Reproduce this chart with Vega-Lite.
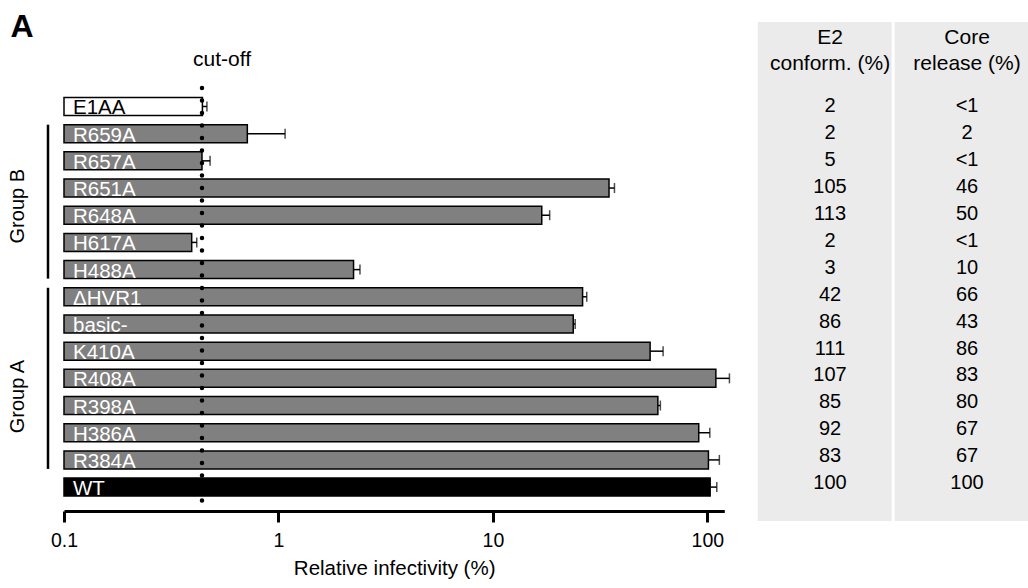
{
  "$schema": "https://vega.github.io/schema/vega-lite/v6.json",
  "padding": {"left": 5, "top": 10, "right": 0, "bottom": 0},
  "bounds": "flush",
  "spacing": 3,
  "config": {"font": "Liberation Sans", "view": {"stroke": null}},
  "datasets": {
    "rows": [
      {"name": "E1AA", "kind": "neg", "value": 0.442, "err": 0.464, "e2": "2", "core": "<1"},
      {"name": "R659A", "kind": "mut", "value": 0.716, "err": 1.074, "e2": "2", "core": "2"},
      {"name": "R657A", "kind": "mut", "value": 0.44, "err": 0.48, "e2": "5", "core": "<1"},
      {"name": "R651A", "kind": "mut", "value": 34.8, "err": 36.9, "e2": "105", "core": "46"},
      {"name": "R648A", "kind": "mut", "value": 16.9, "err": 18.4, "e2": "113", "core": "50"},
      {"name": "H617A", "kind": "mut", "value": 0.394, "err": 0.416, "e2": "2", "core": "<1"},
      {"name": "H488A", "kind": "mut", "value": 2.24, "err": 2.4, "e2": "3", "core": "10"},
      {"name": "ΔHVR1", "kind": "mut", "value": 26.2, "err": 27.4, "e2": "42", "core": "66"},
      {"name": "basic-", "kind": "mut", "value": 23.7, "err": 24.2, "e2": "86", "core": "43"},
      {"name": "K410A", "kind": "mut", "value": 54.1, "err": 62.2, "e2": "111", "core": "86"},
      {"name": "R408A", "kind": "mut", "value": 109.6, "err": 126.8, "e2": "107", "core": "83"},
      {"name": "R398A", "kind": "mut", "value": 58.8, "err": 60.4, "e2": "85", "core": "80"},
      {"name": "H386A", "kind": "mut", "value": 91.2, "err": 102.7, "e2": "92", "core": "67"},
      {"name": "R384A", "kind": "mut", "value": 101.2, "err": 113.8, "e2": "83", "core": "67"},
      {"name": "WT", "kind": "wt", "value": 103.1, "err": 110.7, "e2": "100", "core": "100"}
    ],
    "groups": [
      {"group": "Group B", "first": "R659A", "last": "H488A", "mid": "R648A"},
      {"group": "Group A", "first": "ΔHVR1", "last": "R384A", "mid": "R398A"}
    ],
    "headers": [
      {"col": "E2", "title": "E2\nconform. (%)"},
      {"col": "Core", "title": "Core\nrelease (%)"}
    ],
    "cutoff": [{"cutoff": 0.44, "label": "cut-off"}],
    "panel": [{"panel": "A"}]
  },
  "hconcat": [
    {
      "width": 56,
      "height": 453,
      "layer": [
        {
          "data": {"name": "groups"},
          "mark": {"type": "rule", "strokeWidth": 2.5, "color": "black"},
          "encoding": {
            "x": {"datum": "bracket", "type": "nominal", "scale": {"type": "point", "domain": ["label", "bracket"], "padding": 0.4333}, "axis": null},
            "y": {"field": "first", "type": "nominal", "bandPosition": 0,
                  "scale": {"domain": ["E1AA","R659A","R657A","R651A","R648A","H617A","H488A","ΔHVR1","basic-","K410A","R408A","R398A","H386A","R384A","WT"], "paddingInner": 0.338, "paddingOuter": 1, "align": 0.726},
                  "axis": null},
            "y2": {"field": "last", "bandPosition": 1}
          }
        },
        {
          "data": {"name": "groups"},
          "mark": {"type": "text", "angle": 270, "fontSize": 20, "align": "center", "baseline": "middle", "color": "black"},
          "encoding": {
            "x": {"datum": "label", "type": "nominal"},
            "y": {"field": "mid", "type": "nominal", "bandPosition": 0},
            "text": {"field": "group"}
          }
        },
        {
          "data": {"name": "panel"},
          "mark": {"type": "text", "fontSize": 32, "fontWeight": "bold", "align": "center", "baseline": "alphabetic", "dx": 4, "dy": -69.5, "color": "black"},
          "encoding": {
            "x": {"datum": "label", "type": "nominal"},
            "y": {"datum": "E1AA", "type": "nominal"},
            "text": {"field": "panel"}
          }
        }
      ]
    },
    {
      "width": 660.3,
      "height": 453,
      "layer": [
        {
          "data": {"name": "rows"},
          "mark": {"type": "rule", "strokeWidth": 1.5, "color": "black"},
          "encoding": {
            "x": {"field": "value", "type": "quantitative",
                  "scale": {"type": "log", "domain": [0.1, 120], "nice": false},
                  "axis": {"values": [0.1, 1, 10, 100], "format": "~g", "title": "Relative infectivity (%)",
                           "grid": false, "domainWidth": 3, "domainColor": "black", "tickWidth": 3, "tickColor": "black", "tickSize": 11,
                           "labelFontSize": 19.5, "labelColor": "black", "labelPadding": 9, "labelFlush": false,
                           "titleFontSize": 20.5, "titleFontWeight": "normal", "titleColor": "black", "titlePadding": 9}},
            "x2": {"field": "err"},
            "y": {"field": "name", "type": "nominal",
                  "scale": {"domain": ["E1AA","R659A","R657A","R651A","R648A","H617A","H488A","ΔHVR1","basic-","K410A","R408A","R398A","H386A","R384A","WT"], "paddingInner": 0.338, "paddingOuter": 1, "align": 0.726},
                  "axis": null}
          }
        },
        {
          "data": {"name": "rows"},
          "mark": {"type": "tick", "orient": "vertical", "size": 10, "thickness": 1.5, "color": "black"},
          "encoding": {
            "x": {"field": "err", "type": "quantitative"},
            "y": {"field": "name", "type": "nominal"}
          }
        },
        {
          "data": {"name": "rows"},
          "mark": {"type": "bar", "stroke": "black", "strokeWidth": 1.5},
          "encoding": {
            "x": {"field": "value", "type": "quantitative", "stack": null},
            "x2": {"datum": 0.1},
            "y": {"field": "name", "type": "nominal"},
            "fill": {"field": "kind", "type": "nominal", "scale": {"domain": ["neg", "mut", "wt"], "range": ["white", "#808080", "black"]}, "legend": null}
          }
        },
        {
          "data": {"name": "rows"},
          "mark": {"type": "text", "align": "left", "baseline": "alphabetic", "dx": 9, "dy": 8, "fontSize": 20.5},
          "encoding": {
            "x": {"datum": 0.1, "type": "quantitative"},
            "y": {"field": "name", "type": "nominal"},
            "text": {"field": "name"},
            "color": {"condition": {"test": "datum.kind === 'neg'", "value": "black"}, "value": "white"}
          }
        },
        {
          "data": {"name": "cutoff"},
          "mark": {"type": "rule", "strokeWidth": 4.5, "strokeDash": [0.1, 12.4], "strokeCap": "round", "color": "black"},
          "encoding": {
            "x": {"field": "cutoff", "type": "quantitative"},
            "y": {"datum": "E1AA", "type": "nominal", "bandPosition": -0.53},
            "y2": {"datum": "WT", "bandPosition": 1.78}
          }
        },
        {
          "data": {"name": "cutoff"},
          "mark": {"type": "text", "fontSize": 21, "align": "center", "baseline": "middle", "dx": 20, "dy": -46.5, "color": "black"},
          "encoding": {
            "x": {"field": "cutoff", "type": "quantitative"},
            "y": {"datum": "E1AA", "type": "nominal"},
            "text": {"field": "label"}
          }
        }
      ]
    },
    {
      "width": 300.7,
      "height": 453,
      "layer": [
        {
          "data": {"name": "headers"},
          "mark": {"type": "rect", "color": "#ebebeb"},
          "encoding": {
            "x": {"field": "col", "type": "nominal", "scale": {"domain": ["E2", "Core"], "paddingInner": 0.0219, "paddingOuter": 0.1084, "align": 1}, "axis": null},
            "y": {"datum": "E1AA", "type": "nominal", "bandPosition": -3.28,
                  "scale": {"domain": ["E1AA","R659A","R657A","R651A","R648A","H617A","H488A","ΔHVR1","basic-","K410A","R408A","R398A","H386A","R384A","WT"], "paddingInner": 0.172, "paddingOuter": 1, "align": 0.69},
                  "axis": null},
            "y2": {"datum": "WT", "bandPosition": 2.2}
          }
        },
        {
          "data": {"name": "headers"},
          "mark": {"type": "text", "fontSize": 21, "lineBreak": "\n", "lineHeight": 26, "align": "center", "baseline": "alphabetic", "dy": -62.2, "color": "black"},
          "encoding": {
            "x": {"field": "col", "type": "nominal", "bandPosition": 0.54},
            "y": {"datum": "E1AA", "type": "nominal"},
            "text": {"field": "title"}
          }
        },
        {
          "data": {"name": "rows"},
          "mark": {"type": "text", "fontSize": 20, "align": "center", "baseline": "middle", "color": "black"},
          "encoding": {
            "x": {"datum": "E2", "type": "nominal", "bandPosition": 0.54},
            "y": {"field": "name", "type": "nominal"},
            "text": {"field": "e2"}
          }
        },
        {
          "data": {"name": "rows"},
          "mark": {"type": "text", "fontSize": 20, "align": "center", "baseline": "middle", "color": "black"},
          "encoding": {
            "x": {"datum": "Core", "type": "nominal", "bandPosition": 0.54},
            "y": {"field": "name", "type": "nominal"},
            "text": {"field": "core"}
          }
        }
      ]
    }
  ]
}
